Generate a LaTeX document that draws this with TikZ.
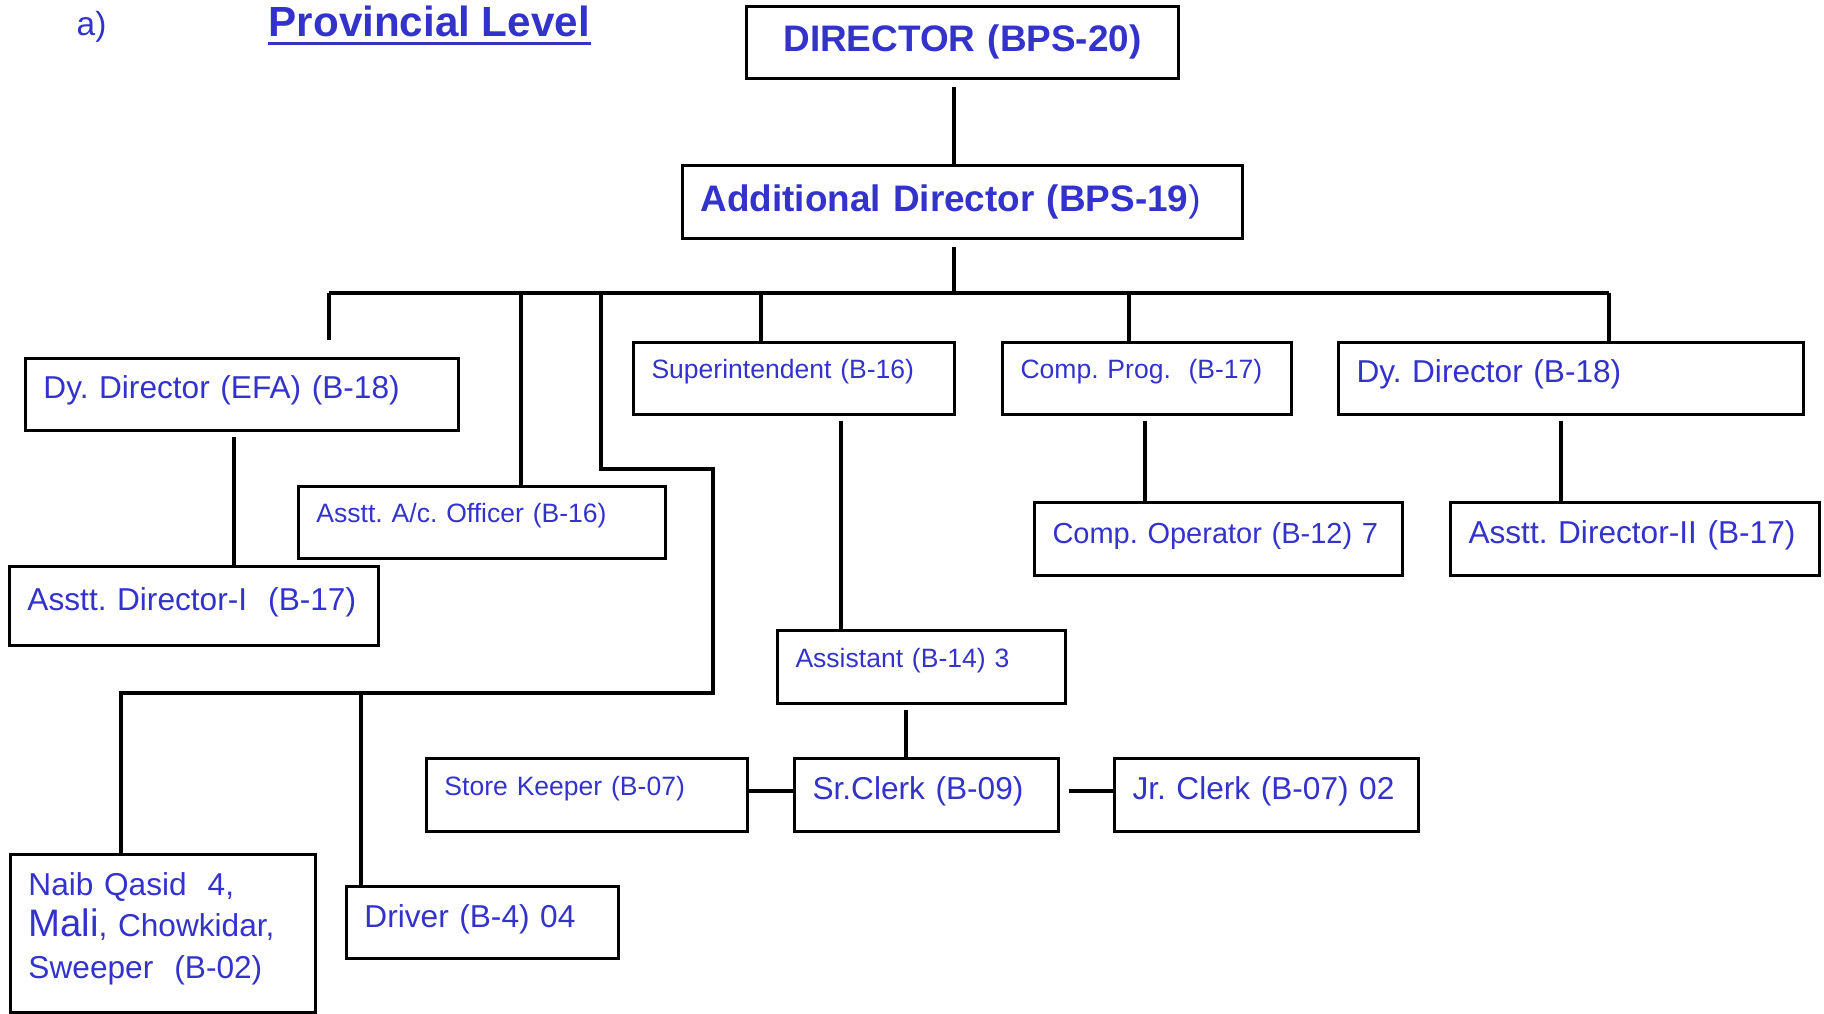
\documentclass[tikz,border=0pt]{standalone}
\usepackage{fontspec}
\setmainfont{Liberation Sans}
\usetikzlibrary{calc}
\definecolor{txtblue}{RGB}{51,51,204}
\frenchspacing

\begin{document}
\begin{tikzpicture}[x=1cm,y=-1cm,
  post/.style={draw,line width=0.85pt,anchor=north west,inner xsep=0.18cm,inner ysep=0pt,align=left,text=txtblue},
  big/.style={post,font=\fontsize{9pt}{11pt}\selectfont,text height=0.24cm,text depth=0.15cm},
  small/.style={post,font=\fontsize{7.55pt}{9pt}\selectfont,text height=0.2cm,text depth=0.19cm},
  head/.style={post,font=\bfseries\fontsize{10.5pt}{12.6pt}\selectfont,text height=0.28cm,text depth=0.09cm},
  link/.style={line width=0.95pt},
  bus/.style={line width=1.3pt}]
\useasboundingbox (0,0) rectangle (18.24,10.13);

% The heading
\node[anchor=base west,inner sep=0pt,text=txtblue,font=\fontsize{9.5pt}{11pt}\selectfont] (tag) at (0.76,0.35) {a)};
\node[anchor=base west,inner sep=0pt,text=txtblue,font=\bfseries\fontsize{12pt}{14pt}\selectfont] (title) at (2.68,0.36) {Provincial Level};
\draw[txtblue,line width=0.85pt] ([yshift=-2.1pt]title.base west) -- ([yshift=-2.1pt]title.base east);

% The boxes
\node[head,align=center,text width=3.96cm,minimum height=0.72cm] (dir) at (7.45,0.05) {DIRECTOR (BPS-20)};
\node[head,text width=5.24cm,minimum height=0.73cm] (add) at (6.81,1.64) {Additional Director (BPS-19{\mdseries)}};
\node[big,text width=3.97cm,minimum height=0.72cm] (efa) at (0.24,3.57) {Dy. Director (EFA) (B-18)};
\node[big,text width=3.33cm,minimum height=0.79cm] (adI) at (0.08,5.65) {Asstt. Director-I\ \ (B-17)};
\node[small,text width=3.31cm,minimum height=0.72cm] (acc) at (2.97,4.85) {Asstt. A/c. Officer (B-16)};
\node[small,text width=2.85cm,minimum height=0.72cm] (sup) at (6.32,3.41) {Superintendent (B-16)};
\node[small,text width=2.53cm,minimum height=0.72cm] (cprog) at (10.01,3.41) {Comp. Prog.\ \ (B-17)};
\node[big,text width=4.29cm,minimum height=0.72cm] (ddir) at (13.37,3.41) {Dy. Director (B-18)};
\node[big,font=\fontsize{8.25pt}{10pt}\selectfont,text width=3.32cm,minimum height=0.73cm] (cop) at (10.33,5.01) {Comp. Operator (B-12) 7};
\node[big,text width=3.33cm,minimum height=0.73cm] (adII) at (14.49,5.01) {Asstt. Director-II (B-17)};
\node[small,text width=2.52cm,minimum height=0.73cm] (asst) at (7.76,6.29) {Assistant (B-14) 3};
\node[small,text width=2.85cm,minimum height=0.73cm] (sk) at (4.25,7.57) {Store Keeper (B-07)};
\node[big,text width=2.28cm,minimum height=0.73cm] (src) at (7.93,7.57) {Sr.Clerk (B-09)};
\node[big,text width=2.68cm,minimum height=0.73cm] (jrc) at (11.13,7.57) {Jr. Clerk (B-07) 02};
\node[big,text width=2.36cm,minimum height=0.72cm] (drv) at (3.45,8.85) {Driver (B-4) 04};
\node[post,font=\fontsize{9pt}{11.8pt}\selectfont,text width=2.69cm,text height=0.13cm,minimum height=1.58cm] (naib) at (0.09,8.53)
  {Naib Qasid\ \ 4,\\{\fontsize{10.9pt}{11.8pt}\selectfont Mali}, Chowkidar,\\Sweeper\ \ (B-02)};

% The spine
\coordinate (hub) at (9.54,2.93);
\draw[link] (dir.south -| hub) ++(0,0.07) -- (add.north -| hub);
\draw[link] (add.south -| hub) ++(0,0.07) -- (hub);

% The bus and its drops
\coordinate (b1) at (3.29,2.93);
\coordinate (b2) at (5.21,2.93);
\coordinate (b3) at (6.01,2.93);
\coordinate (b4) at (7.61,2.93);
\coordinate (b5) at (11.29,2.93);
\coordinate (b6) at (16.09,2.93);
\draw[bus] (b1) -- (b6);
\draw[link] (b1) -- ($(b1 |- efa.north)+(0,-0.17)$);
\foreach \p/\q in {b2/acc,b4/sup,b5/cprog,b6/ddir}
  \draw[link] (\p) -- (\p |- \q.north);

% The long way round to the staff
\coordinate (kink) at (7.13,4.69);
\coordinate (nq) at (1.21,6.93);
\coordinate (dr) at (3.61,6.93);
\draw[link] (b3) |- (kink) |- (nq) -- (nq |- naib.north);
\draw[link] (dr) -- (dr |- drv.north);

% The lines under the boxes
\coordinate (l1) at (2.34,4.37);
\coordinate (l2) at (8.41,4.21);
\coordinate (l3) at (11.45,4.21);
\coordinate (l4) at (15.61,4.21);
\coordinate (l5) at (9.06,7.10);
\foreach \p/\q in {l1/adI,l2/asst,l3/cop,l4/adII,l5/src}
  \draw[link] (\p) -- (\p |- \q.north);

\draw[link] ([yshift=0.04cm]sk.east) -- ([yshift=0.04cm]src.west);
\draw[link] ([xshift=0.09cm,yshift=0.04cm]src.east) -- ([yshift=0.04cm]jrc.west);
\end{tikzpicture}
\end{document}
